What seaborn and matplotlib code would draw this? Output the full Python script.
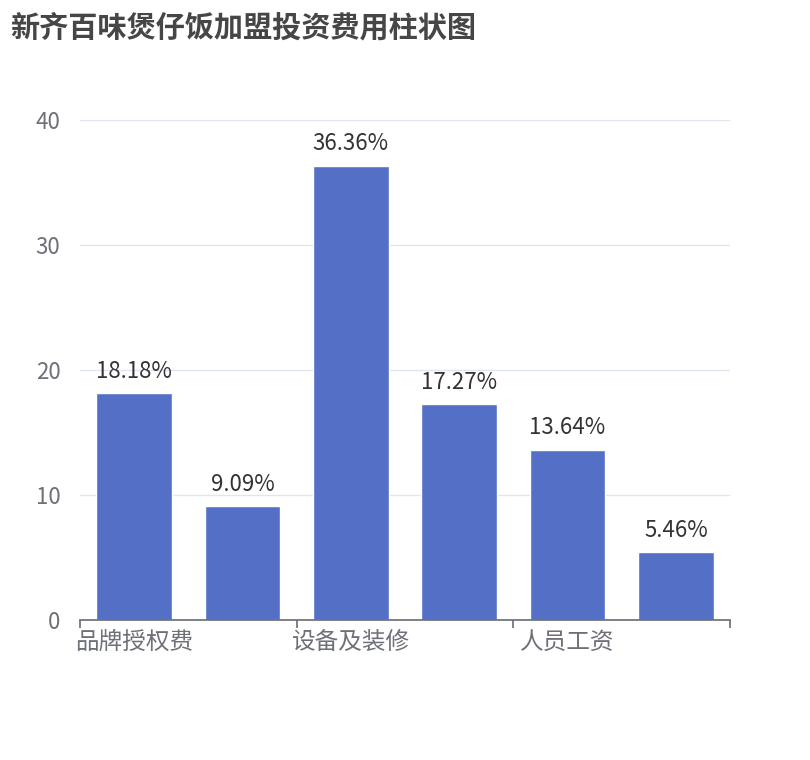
import matplotlib
matplotlib.use("Agg")
import matplotlib.pyplot as plt
import seaborn as sns
import pandas as pd

categories = ["品牌授权费", "加盟费", "设备及装修", "首批原料", "人员工资", "其他费用"]
values = [18.18, 9.09, 36.36, 17.27, 13.64, 5.46]
labels = ["18.18%", "9.09%", "36.36%", "17.27%", "13.64%", "5.46%"]
yticks = [0, 10, 20, 30, 40]

sns.set_theme(style="white")
plt.rcParams['font.family'] = ['Noto Sans CJK SC', 'DejaVu Sans']

fig = plt.figure(figsize=(8.1, 7.6), dpi=100)
ax = fig.add_axes([80/810, 1-620/760, 650/810, 500/760])
df = pd.DataFrame({"cat": categories, "val": values})
sns.barplot(data=df, x="cat", y="val", color="#5470c6", saturation=1, width=0.7, ax=ax)
for i, (v, l) in enumerate(zip(values, labels)):
    ax.text(i, v + 0.8, l, ha="center", va="bottom", fontsize=16, color="#333333")

ax.set_xlim(-0.5, 5.5)
ax.set_ylim(0, 40)
ax.set_yticks(yticks)
ax.set_yticklabels([str(t) for t in yticks], fontsize=16, color="#6e7079")
ax.tick_params(axis="y", length=0, pad=14)
ax.yaxis.grid(True, color="#e0e6f1", linewidth=1)
ax.set_axisbelow(True)
ax.set_xticks([-0.5, 1.5, 3.5, 5.5])
ax.set_xticklabels([])
ax.tick_params(axis="x", length=6, color="#6e7079", direction="out", bottom=True)
for i in [0, 2, 4]:
    ax.text(i, -0.9, categories[i], ha="center", va="top", fontsize=17, color="#6e7079")
for s in ["top", "right", "left"]:
    ax.spines[s].set_visible(False)
ax.spines["bottom"].set_color("#6e7079")
ax.set_xlabel("")
ax.set_ylabel("")
fig.text(10/810, 1-27/760, "新齐百味煲仔饭加盟投资费用柱状图", fontsize=21, fontweight="bold",
         color="#464646", ha="left", va="center")
fig.savefig("out.png", dpi=100)
